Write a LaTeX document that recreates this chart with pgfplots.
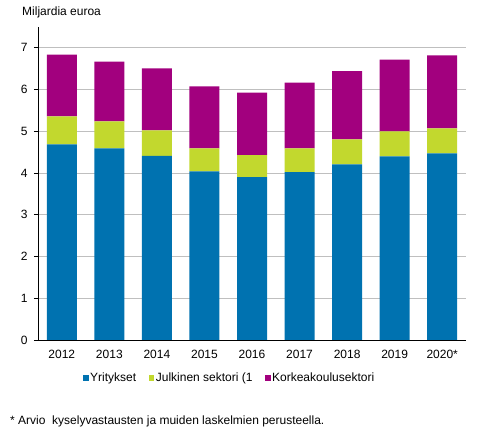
\documentclass[border=0pt]{standalone}
\usepackage{fontspec}
\setmainfont{Liberation Sans}
\usepackage{pgfplots}
\pgfplotsset{compat=1.18}
\definecolor{yblue}{HTML}{0072B0}
\definecolor{ygreen}{HTML}{C2D82E}
\definecolor{ypurple}{HTML}{A2007E}
\definecolor{gridgray}{HTML}{BFBFBF}
\begin{document}
\begin{tikzpicture}
  \path[use as bounding box] (0pt,0pt) rectangle (491pt,434pt);
  \begin{axis}[
      at={(38pt,94pt)}, anchor=south west,
      scale only axis,
      width=428pt, height=313pt,
      ybar stacked,
      bar width=30pt,
      xmin=-0.5, xmax=8.5,
      ymin=0, ymax=7.5,
      axis x line=bottom,
      axis y line=left,
      axis line style={-, black, line width=0.8pt},
      xtick={0,...,8},
      xticklabels={2012,2013,2014,2015,2016,2017,2018,2019,2020*},
      xtick style={draw=none},
      ytick={0,...,7},
      tick align=outside,
      major tick length=4pt,
      ytick style={black, line width=0.8pt},
      ymajorgrids=true,
      grid style={gridgray, line width=0.9pt},
      tick label style={font=\fontsize{12}{14}\selectfont},
      yticklabel style={xshift=-3pt},
      xticklabel style={yshift=-3pt},
      /pgf/number format/assume math mode=true,
      legend columns=3,
      legend style={draw=none, fill=none, inner sep=0pt, at={(0.105,-0.121)}, anchor=west,
        font=\fontsize{12}{14}\selectfont,
        /tikz/every odd column/.append style={column sep=0pt},
        /tikz/every even column/.append style={column sep=11pt},
        nodes={inner xsep=1.5pt}},
      legend image code/.code={\fill[#1] (0pt,-2.8pt) rectangle (5.6pt,2.8pt);},
      clip=false,
    ]
    \addplot[fill=yblue, draw=none] coordinates {
      (0,4.69) (1,4.59) (2,4.41) (3,4.04) (4,3.90) (5,4.02) (6,4.21) (7,4.40) (8,4.47)};
    \addlegendentry{Yritykset}
    \addplot[fill=ygreen, draw=none] coordinates {
      (0,0.67) (1,0.65) (2,0.61) (3,0.55) (4,0.53) (5,0.57) (6,0.60) (7,0.60) (8,0.60)};
    \addlegendentry{Julkinen sektori (1}
    \addplot[fill=ypurple, draw=none] coordinates {
      (0,1.48) (1,1.43) (2,1.49) (3,1.49) (4,1.50) (5,1.58) (6,1.63) (7,1.72) (8,1.75)};
    \addlegendentry{Korkeakoulusektori}
  \end{axis}
  \node[anchor=west, font=\fontsize{12}{14}\selectfont, inner sep=0pt] at (22pt,422pt) {Miljardia euroa};
  \node[anchor=west, font=\fontsize{12}{14}\selectfont, inner sep=0pt] at (10pt,13pt) {* Arvio\ \ kyselyvastausten ja muiden laskelmien perusteella.};
\end{tikzpicture}
\end{document}
